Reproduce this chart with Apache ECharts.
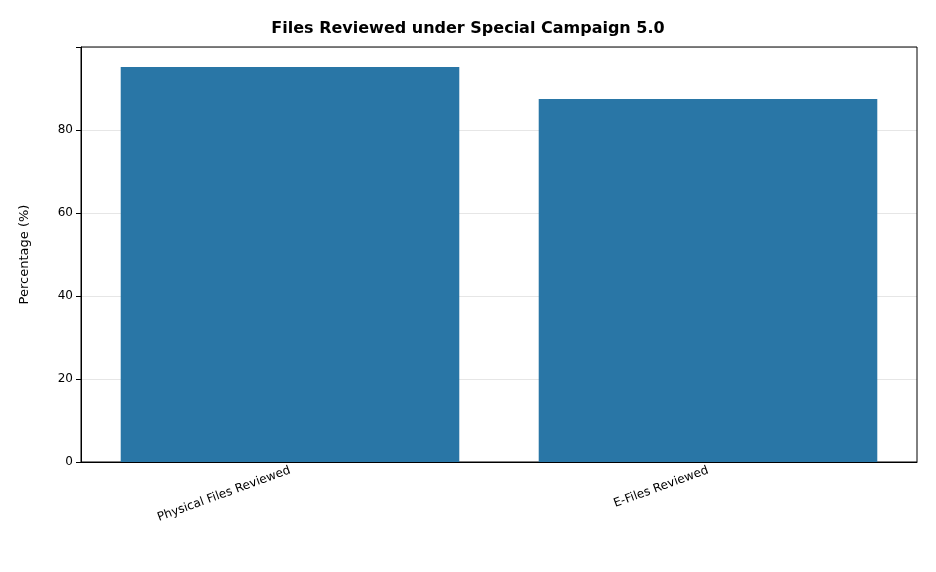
<!DOCTYPE html>
<html><head><meta charset="utf-8">
<script src="https://cdn.jsdelivr.net/npm/echarts@6/dist/echarts.min.js"></script>
<style>html,body{margin:0;padding:0;background:#fff}#c{width:936px;height:572px}</style>
</head><body><div id="c"></div>
<script>
const categories = ["Physical Files Reviewed", "E-Files Reviewed"];
const values = [95.2, 87.5];
const chart = echarts.init(document.getElementById('c'));
chart.setOption({
  animation: false,
  title: {text: 'Files Reviewed under Special Campaign 5.0', left: 'center', top: 16,
    textStyle: {fontFamily: 'DejaVu Sans', fontSize: 16, fontWeight: 'bold', color: '#000'}},
  grid: {left: 81, right: 19, top: 47, bottom: 110},
  xAxis: {type: 'category', data: categories,
    axisLine: {lineStyle: {color: '#000'}},
    axisTick: {alignWithLabel: true, lineStyle: {color: '#000'}},
    axisLabel: {rotate: 20, fontFamily: 'DejaVu Sans', fontSize: 12, color: '#000', margin: 8}},
  yAxis: {type: 'value', min: 0, max: 100, interval: 20,
    name: 'Percentage (%)', nameLocation: 'middle', nameGap: 50,
    nameTextStyle: {fontFamily: 'DejaVu Sans', fontSize: 13, color: '#000'},
    axisLine: {show: true, lineStyle: {color: '#000'}},
    axisTick: {show: true, lineStyle: {color: '#000'}},
    axisLabel: {fontFamily: 'DejaVu Sans', fontSize: 12, color: '#000',
      formatter: v => v === 100 ? '' : v},
    splitLine: {lineStyle: {color: '#e6e6e6'}}},
  series: [{type: 'bar', data: values, barCategoryGap: '19%',
    itemStyle: {color: '#2976a6'}}]
});
chart.getZr().add(new echarts.graphic.Rect({shape:{x:81,y:47,width:836,height:415},style:{fill:'none',stroke:'#000',lineWidth:1}}));
</script></body></html>
